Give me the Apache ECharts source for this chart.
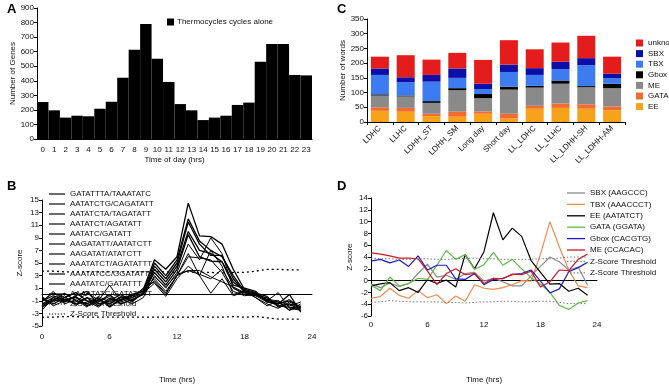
<!DOCTYPE html>
<html>
<head>
<meta charset="utf-8">
<script src="https://cdn.jsdelivr.net/npm/echarts@6/dist/echarts.min.js"></script>
<style>html,body{margin:0;padding:0;background:#fff}#main{width:669px;height:385px}</style>
</head>
<body>
<div id="main"></div>
<script>
// panel A
var hoursA = ['0','1','2','3','4','5','6','7','8','9','10','11','12','13','14','15','16','17','18','19','20','21','22','23'];
var genesA = [254,197,147,160,156,208,256,421,614,790,552,392,240,197,130,147,160,234,250,531,653,653,440,437];

// panel C
var wordCats = ['LDHC','LLHC','LDHH_ST','LDHH_SM','Long day','Short day','LL_LDHC','LL_LLHC','LL_LDHH-SH','LL_LDHH-AM'];
var wEE      = [38, 35, 20, 18, 28, 12, 45, 48, 45, 40];
var wGATA    = [12, 13,  8, 17,  8, 16, 10, 15, 15, 13];
var wME      = [40, 39, 37, 73, 45, 82, 62, 67, 58, 62];
var wGbox    = [ 4,  3,  6,  7, 14, 10,  6, 11,  4, 15];
var wTBX     = [66, 45, 66, 35, 17, 50, 37, 39, 71, 19];
var wSBX     = [22, 17, 23, 32, 18, 25, 23, 25, 24, 15];
var wUnknown = [40, 75, 52, 53, 81, 83, 64, 65, 76, 58];

// panel B / D : hourly time points
var hrs = [0,1,2,3,4,5,6,7,8,9,10,11,12,13,14,15,16,17,18,19,20,21,22,23];

var motifNames = ['GATATTTA/TAAATATC','AATATCTG/CAGATATT','AATATCTA/TAGATATT','AATATCT/AGATATT',
    'AATATC/GATATT','AAGATATT/AATATCTT','AAGATAT/ATATCTT','AAATATCT/AGATATTT',
    'AAATATCC/GGATATTT','AAATATC/GATATTT','AAAATATC/GATATTTT'];
var m1  = [-1.5,-0.5,-1.0,-0.3,-1.8,-0.8,-1.5,-0.5,-0.2,0.8,5.5,4.0,6.0,14.5,9.3,9.2,8.0,4.0,0.8,0.3,-0.8,-1.5,-1.0,-2.0];
var m2  = [-1.0,-0.2,-0.8,-1.5,-0.5,-1.8,-0.6,-1.0,0.0,0.5,5.0,3.0,5.5,12.0,8.5,7.0,6.0,3.0,0.5,-0.2,-0.5,-1.8,-2.0,-2.2];
var m3  = [-2.0,-1.0,0.2,-1.0,-1.5,-0.5,-2.0,-0.8,-0.5,0.2,4.5,2.5,5.0,11.5,8.0,6.2,6.2,2.5,0.4,0.0,-1.0,-1.2,-2.5,-1.8];
var m4  = [-0.5,-1.5,-0.5,0.3,-1.0,-1.2,0.0,-1.5,-0.8,0.0,4.0,2.0,4.5,10.0,7.0,6.5,5.2,2.0,0.6,0.2,-0.3,-2.0,-1.5,-2.5];
var m5  = [-1.8,-0.8,-1.2,-0.2,0.5,-1.5,-1.0,0.0,-1.2,0.3,3.5,1.5,4.0,9.5,6.0,5.3,5.2,1.5,1.0,0.5,-1.2,-1.5,0.0,-2.8];
var m6  = [-1.2,0.5,-1.5,-0.8,-2.0,-0.3,-1.2,-0.5,-1.5,-0.5,3.0,1.0,3.5,8.0,5.5,9.0,6.5,1.0,0.2,0.2,-0.8,-1.0,-1.8,-1.2];
var m7  = [-0.8,-1.2,-0.2,-1.8,-0.5,-1.0,1.5,-1.0,-0.2,0.8,2.5,0.5,3.0,6.5,3.0,7.0,4.5,0.0,0.6,-0.5,-1.5,-2.2,-1.2,-2.0];
var m8  = [-2.5,-0.5,-1.0,-0.5,-1.0,-2.0,-0.8,-1.2,-0.5,1.0,2.0,0.0,3.0,6.0,5.8,5.5,3.5,0.5,-0.2,0.0,-1.0,0.3,-2.2,-2.5];
var m9  = [-0.3,-1.8,-1.0,-1.2,0.2,-0.8,-1.5,-0.3,-1.0,0.2,1.8,-0.3,2.5,4.5,3.0,0.2,2.5,-0.2,0.4,-0.5,-1.8,-1.0,-2.5,-1.5];
var m10 = [-1.0,0.2,-0.5,-1.5,-1.2,-0.5,-1.8,-0.8,-0.2,0.5,2.2,0.2,3.0,3.8,3.2,2.5,4.0,1.0,0.0,-0.2,-1.2,-1.5,-0.8,-2.2];
var m11 = [-1.5,-1.0,-0.8,-0.5,-1.8,-1.2,-0.3,-1.5,-0.8,0.0,2.8,1.2,3.2,3.8,3.8,2.8,2.0,1.2,0.3,0.0,-1.0,-1.8,-1.5,-2.0];
var thrBUp = [3.7,3.7,3.6,3.6,3.6,3.6,3.6,3.6,3.6,3.6,3.6,3.6,3.5,3.6,3.5,3.5,3.4,3.5,3.5,3.7,4.0,4.0,3.9,3.9];
var thrBLo = [-3.6,-3.6,-3.5,-3.5,-3.6,-3.6,-3.6,-3.6,-3.6,-3.6,-3.6,-3.6,-3.6,-3.6,-3.5,-3.6,-3.6,-3.5,-3.6,-3.5,-3.7,-3.9,-3.9,-3.9];

var dSBX  = [-0.6,-1.2,-0.4,-1.0,-0.5,1.2,2.8,0.6,0.9,0.2,1.2,1.4,-0.1,0.4,-0.2,-0.9,-0.9,0.8,2.4,4.0,3.2,1.8,2.3,-0.8];
var dTBX  = [-3.0,-2.7,-1.3,-2.5,-3.0,-1.7,-2.9,-2.4,-3.9,-2.6,-3.5,-0.7,-1.3,-1.5,-1.2,-0.7,0.0,-0.1,4.5,10.0,5.7,1.8,-0.9,-1.2];
var dEE   = [-0.9,-0.55,-0.35,-1.7,-1.2,-2.0,0.15,-0.5,0.1,-1.1,4.4,2.0,4.9,11.5,6.9,8.9,7.5,3.4,1.4,-0.6,-0.5,-1.8,-1.3,-2.5];
var dGATA = [-0.8,-1.7,0.6,-0.9,-0.5,0.4,0.2,2.6,5.1,3.6,4.4,1.9,2.7,4.8,2.6,3.6,2.0,0.5,-0.6,-2.0,-4.2,-4.9,-3.8,-3.4];
var dGbox = [3.3,3.6,3.0,3.5,2.4,4.2,1.8,2.6,2.6,0.3,0.2,1.2,-0.7,0.2,0.4,1.0,1.2,1.8,-0.1,-2.1,-1.4,1.5,2.2,3.1];
var dME   = [4.7,4.5,4.2,3.8,3.8,3.7,1.6,-0.7,1.2,2.0,1.0,1.2,-0.5,0.4,0.3,1.1,1.0,1.6,-1.1,-0.2,1.8,1.7,3.6,4.5];
var thrDUp = [3.8,3.7,3.7,3.6,3.6,3.7,3.7,3.6,3.6,3.7,3.8,3.8,3.7,3.7,3.6,3.6,3.6,3.6,3.7,3.7,3.8,4.0,4.0,4.0];
var thrDLo = [-3.7,-3.6,-3.4,-3.5,-3.6,-3.6,-3.6,-3.6,-3.7,-3.7,-3.8,-3.7,-3.6,-3.6,-3.5,-3.5,-3.6,-3.6,-3.5,-3.5,-3.7,-3.9,-3.9,-3.9];

var FONT = 'Liberation Sans, Arial, sans-serif';
// legend glyphs: a plain stroke and a dotted stroke
var ICON_LINE = 'path://M0,0h18v1.3h-18z';
var ICON_DOTS = 'path://M0,0h1.4v1.3h-1.4z M3.3,0h1.4v1.3h-1.4z M6.6,0h1.4v1.3h-1.4z M9.9,0h1.4v1.3h-1.4z M13.2,0h1.4v1.3h-1.4z M16.5,0h1.4v1.3h-1.4z';

function pairs(vals) {
    var out = [];
    for (var i = 0; i < vals.length; i++) {
        out.push([hrs[i], vals[i]]);
    }
    return out;
}

function lbl(size) {
    return { fontSize: size || 8, color: '#111', fontFamily: FONT };
}

function legendItems(names) {
    return names.map(function (n) {
        return { name: n, icon: n.indexOf('thr') === 0 ? ICON_DOTS : ICON_LINE };
    });
}

var blackLine = { color: '#000', width: 1 };

drawAll();

function drawAll() {
    var myChart = echarts.init(document.getElementById('main'), null, { renderer: 'canvas' });

    var motifs = [m1, m2, m3, m4, m5, m6, m7, m8, m9, m10, m11];
    var series = [];

    // A
    series.push({
        name: 'Thermocycles cycles alone',
        type: 'bar',
        xAxisIndex: 0,
        yAxisIndex: 0,
        barCategoryGap: '0%',
        itemStyle: { color: '#000' },
        data: genesA
    });

    // B
    for (var i = 0; i < motifs.length; i++) {
        series.push({
            name: motifNames[i],
            type: 'line',
            xAxisIndex: 1,
            yAxisIndex: 1,
            symbol: 'none',
            lineStyle: { color: '#000', width: i < 5 ? 1.3 : 1 },
            itemStyle: { color: '#000' },
            data: pairs(motifs[i])
        });
    }
    series.push({
        name: 'thrB1', type: 'line', xAxisIndex: 1, yAxisIndex: 1, symbol: 'none',
        lineStyle: { color: '#000', width: 1.3, type: [2, 3] }, itemStyle: { color: '#000' },
        data: pairs(thrBUp)
    });
    series.push({
        name: 'thrB2', type: 'line', xAxisIndex: 1, yAxisIndex: 1, symbol: 'none',
        lineStyle: { color: '#000', width: 1.3, type: [2, 3] }, itemStyle: { color: '#000' },
        data: pairs(thrBLo)
    });

    // C
    var cSeries = [
        ['EE', wEE, '#f7a21b'],
        ['GATA', wGATA, '#f26b2f'],
        ['ME', wME, '#8a8a8a'],
        ['Gbox', wGbox, '#000000'],
        ['TBX', wTBX, '#3d7cf0'],
        ['SBX', wSBX, '#0b0fa8'],
        ['unknown', wUnknown, '#e51c1c']
    ];
    cSeries.forEach(function (s) {
        series.push({
            name: s[0],
            type: 'bar',
            stack: 'words',
            xAxisIndex: 2,
            yAxisIndex: 2,
            barWidth: 18,
            itemStyle: { color: s[2] },
            data: s[1]
        });
    });

    // D
    var dSeries = [
        ['SBX (AAGCCC)', dSBX, '#8c8c8c'],
        ['TBX (AAACCCT)', dTBX, '#f08a4b'],
        ['EE (AATATCT)', dEE, '#000000'],
        ['GATA (GGATA)', dGATA, '#5dbb46'],
        ['Gbox (CACGTG)', dGbox, '#1a1ac4'],
        ['ME (CCACAC)', dME, '#d0182a']
    ];
    dSeries.forEach(function (s) {
        series.push({
            name: s[0],
            type: 'line',
            xAxisIndex: 3,
            yAxisIndex: 3,
            symbol: 'none',
            lineStyle: { color: s[2], width: 1.2 },
            itemStyle: { color: s[2] },
            data: pairs(s[1])
        });
    });
    series.push({
        name: 'thrD1', type: 'line', xAxisIndex: 3, yAxisIndex: 3, symbol: 'none',
        lineStyle: { color: '#7a7a7a', width: 1, type: [1.5, 2] }, itemStyle: { color: '#7a7a7a' },
        data: pairs(thrDUp)
    });
    series.push({
        name: 'thrD2', type: 'line', xAxisIndex: 3, yAxisIndex: 3, symbol: 'none',
        lineStyle: { color: '#7a7a7a', width: 1, type: [1.5, 2] }, itemStyle: { color: '#7a7a7a' },
        data: pairs(thrDLo)
    });

    var thrFmt = function (name) {
        return name.indexOf('thr') === 0 ? 'Z-Score Threshold' : name;
    };

    var option = {
        animation: false,
        textStyle: { fontFamily: FONT },
        title: [
            { text: 'A', left: 2, top: -2, textStyle: { fontSize: 13, fontWeight: 'bold', color: '#000' } },
            { text: 'B', left: 2, top: 175, textStyle: { fontSize: 13, fontWeight: 'bold', color: '#000' } },
            { text: 'C', left: 332, top: -2, textStyle: { fontSize: 13, fontWeight: 'bold', color: '#000' } },
            { text: 'D', left: 332, top: 175, textStyle: { fontSize: 13, fontWeight: 'bold', color: '#000' } }
        ],
        legend: [
            {
                data: ['Thermocycles cycles alone'],
                left: 167, top: 18, padding: 0,
                icon: 'rect', itemWidth: 7, itemHeight: 7, itemGap: 2,
                selectedMode: false,
                textStyle: Object.assign({ padding: [0, 0, 0, -2] }, lbl(8))
            },
            {
                data: legendItems(motifNames.concat(['thrB1', 'thrB2'])),
                orient: 'vertical',
                left: 49, top: 190, padding: 0,
                itemWidth: 16, itemHeight: 8, itemGap: 2,
                formatter: thrFmt,
                selectedMode: false,
                textStyle: lbl(8)
            },
            {
                data: ['unknown', 'SBX', 'TBX', 'Gbox', 'ME', 'GATA', 'EE'],
                orient: 'vertical',
                left: 631, top: 34,
                icon: 'rect', itemWidth: 7, itemHeight: 7, itemGap: 2.6,
                itemStyle: { borderWidth: 0 },
                selectedMode: false,
                textStyle: lbl(8)
            },
            {
                data: legendItems(['SBX (AAGCCC)', 'TBX (AAACCCT)', 'EE (AATATCT)', 'GATA (GGATA)', 'Gbox (CACGTG)', 'ME (CCACAC)', 'thrD1', 'thrD2']),
                orient: 'vertical',
                left: 567, top: 189, padding: 0,
                itemWidth: 18, itemHeight: 8, itemGap: 3.4,
                formatter: thrFmt,
                selectedMode: false,
                textStyle: lbl(8)
            }
        ],
        grid: [
            { left: 37, top: 8, width: 275, height: 131 },
            { left: 42, top: 200, width: 270, height: 170 },
            { left: 367, top: 19, width: 258, height: 103 },
            { left: 371, top: 198, width: 226, height: 170 }
        ],
        xAxis: [
            {
                gridIndex: 0, type: 'category', data: hoursA,
                name: 'Time of day (hrs)', nameLocation: 'middle', nameGap: 17,
                nameTextStyle: lbl(8),
                axisLine: { lineStyle: blackLine },
                axisTick: { show: false },
                axisLabel: Object.assign({ interval: 0, margin: 7 }, lbl(8))
            },
            {
                gridIndex: 1, type: 'value', min: 0, max: 24, interval: 6,
                name: 'Time (hrs)', nameLocation: 'middle', nameGap: 50,
                nameTextStyle: lbl(8),
                axisLine: { onZero: true, lineStyle: blackLine },
                axisTick: { show: false },
                splitLine: { show: false },
                axisLabel: Object.assign({ margin: 7 }, lbl(8))
            },
            {
                gridIndex: 2, type: 'category', data: wordCats,
                axisLine: { lineStyle: blackLine },
                axisTick: { show: true, length: 3, lineStyle: blackLine },
                axisLabel: Object.assign({ interval: 0, rotate: 45, margin: 5 }, lbl(8))
            },
            {
                gridIndex: 3, type: 'value', min: 0, max: 24, interval: 6,
                name: 'Time (hrs)', nameLocation: 'middle', nameGap: 60,
                nameTextStyle: lbl(8),
                axisLine: { onZero: true, lineStyle: blackLine },
                axisTick: { show: false },
                splitLine: { show: false },
                axisLabel: Object.assign({ margin: 5 }, lbl(8))
            }
        ],
        yAxis: [
            {
                gridIndex: 0, type: 'value', min: 0, max: 900, interval: 100,
                name: 'Number of Genes', nameLocation: 'middle', nameGap: 16,
                nameTextStyle: lbl(8),
                axisLine: { show: true, lineStyle: blackLine },
                axisTick: { show: true, length: 3, lineStyle: blackLine },
                splitLine: { show: false },
                axisLabel: Object.assign({ margin: 3 }, lbl(8))
            },
            {
                gridIndex: 1, type: 'value', min: -5, max: 15, interval: 2,
                name: 'Z-score', nameLocation: 'middle', nameGap: 18,
                nameTextStyle: lbl(8),
                axisLine: { show: true, onZero: false, lineStyle: blackLine },
                axisTick: { show: true, length: 3, lineStyle: blackLine },
                splitLine: { show: false },
                axisLabel: Object.assign({ margin: 3 }, lbl(8))
            },
            {
                gridIndex: 2, type: 'value', min: 0, max: 350, interval: 50,
                name: 'Number of words', nameLocation: 'middle', nameGap: 20,
                nameTextStyle: lbl(8),
                axisLine: { show: true, lineStyle: blackLine },
                axisTick: { show: true, length: 3, lineStyle: blackLine },
                splitLine: { show: false },
                axisLabel: Object.assign({ margin: 3 }, lbl(8))
            },
            {
                gridIndex: 3, type: 'value', min: -6, max: 14, interval: 2,
                name: 'Z-score', nameLocation: 'middle', nameGap: 17,
                nameTextStyle: lbl(8),
                axisLine: { show: true, onZero: false, lineStyle: blackLine },
                axisTick: { show: true, length: 3, lineStyle: blackLine },
                splitLine: { show: false },
                axisLabel: Object.assign({ margin: 3 }, lbl(8))
            }
        ],
        series: series
    };

    myChart.setOption(option, true);
    window.onresize = myChart.resize;
}
</script>
</body>
</html>
